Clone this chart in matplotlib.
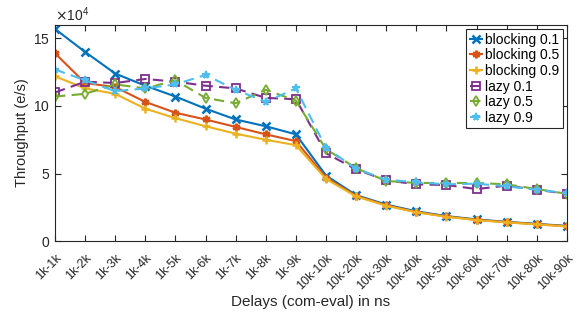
import numpy as np
import matplotlib
matplotlib.use("Agg")
import matplotlib.pyplot as plt
from matplotlib.ticker import ScalarFormatter

plt.rcParams['font.family'] = ['Liberation Sans', 'DejaVu Sans']

delays = ["1k-1k", "1k-2k", "1k-3k", "1k-4k", "1k-5k", "1k-6k", "1k-7k", "1k-8k", "1k-9k",
          "10k-10k", "10k-20k", "10k-30k", "10k-40k", "10k-50k", "10k-60k", "10k-70k",
          "10k-80k", "10k-90k"]

# throughput in units of 1e4 e/s
blocking_01 = [15.7, 14.0, 12.4, 11.5, 10.7, 9.8, 9.0, 8.5, 7.9,
               4.85, 3.4, 2.7, 2.2, 1.85, 1.6, 1.42, 1.27, 1.12]
blocking_05 = [13.9, 11.7, 11.4, 10.3, 9.5, 9.0, 8.45, 7.9, 7.4,
               4.7, 3.35, 2.65, 2.15, 1.82, 1.57, 1.4, 1.25, 1.1]
blocking_09 = [12.2, 11.3, 10.9, 9.8, 9.1, 8.5, 7.95, 7.5, 7.1,
               4.6, 3.3, 2.62, 2.13, 1.8, 1.55, 1.38, 1.23, 1.08]
lazy_01 = [11.0, 11.8, 11.7, 12.0, 11.8, 11.5, 11.3, 10.6, 10.5,
           6.5, 5.3, 4.5, 4.2, 4.15, 3.85, 4.1, 3.8, 3.5]
lazy_05 = [10.7, 10.9, 11.6, 11.3, 11.9, 10.6, 10.2, 11.2, 10.4,
           6.8, 5.4, 4.45, 4.3, 4.3, 4.3, 4.2, 3.85, 3.5]
lazy_09 = [12.7, 11.9, 11.1, 11.3, 11.6, 12.3, 11.2, 10.3, 11.3,
           6.9, 5.35, 4.55, 4.35, 4.2, 4.25, 4.05, 3.8, 3.55]

series = [
    ("blocking 0.1", blocking_01, '#0072BD', 'x', '-'),
    ("blocking 0.5", blocking_05, '#D95319', (6, 2, 0), '-'),
    ("blocking 0.9", blocking_09, '#EDB120', '+', '-'),
    ("lazy 0.1", lazy_01, '#7E2F8E', 's', '--'),
    ("lazy 0.5", lazy_05, '#77AC30', 'd', '--'),
    ("lazy 0.9", lazy_09, '#4DBEEE', '*', '--'),
]

fig = plt.figure(figsize=(5.81, 3.24), dpi=100)
ax = fig.add_axes([0.0947, 0.256, 0.881, 0.667])

x = np.arange(len(delays))
for name, vals, col, mk, ls in series:
    y = np.array(vals) * 1e4
    if mk in ('s', 'd', '*'):
        ax.plot(x, y, linestyle=ls, color=col, lw=1.5, marker=mk, ms=5.5,
                mfc='none' if mk != '*' else col, mec=col, mew=1.3,
                dashes=(5, 3), label=name)
    else:
        ax.plot(x, y, linestyle=ls, color=col, lw=1.5, marker=mk, ms=5.5,
                mec=col, mew=1.8, label=name)

ax.set_xlim(0, len(delays) - 1)
ax.set_ylim(0, 16e4)
ax.set_xticks(x)
ax.set_xticklabels(delays, rotation=45, ha='right', rotation_mode='anchor')
ax.set_yticks([0, 5e4, 10e4, 15e4])
fmt = ScalarFormatter(useMathText=True)
fmt.set_powerlimits((4, 4))
ax.yaxis.set_major_formatter(fmt)
ax.yaxis.get_offset_text().set_fontsize(10)
ax.tick_params(direction='in', top=True, right=True, labelsize=10, length=4,
               colors='#262626')
ax.tick_params(axis='x', labelsize=9, pad=8)
for s in ax.spines.values():
    s.set_color('#262626')
    s.set_linewidth(0.8)

ax.set_xlabel("Delays (com-eval) in ns", fontsize=11, color='#262626', labelpad=2)
ax.set_ylabel("Throughput (e/s)", fontsize=10.5, color='#262626', labelpad=3)

leg = ax.legend(loc='upper right', fontsize=10, handlelength=0.9, handletextpad=0.2,
                borderpad=0.25, labelspacing=0.12, fancybox=False, framealpha=1,
                edgecolor='#262626', borderaxespad=0.3)
leg.get_frame().set_linewidth(0.8)

fig.savefig("out.png", dpi=100)
